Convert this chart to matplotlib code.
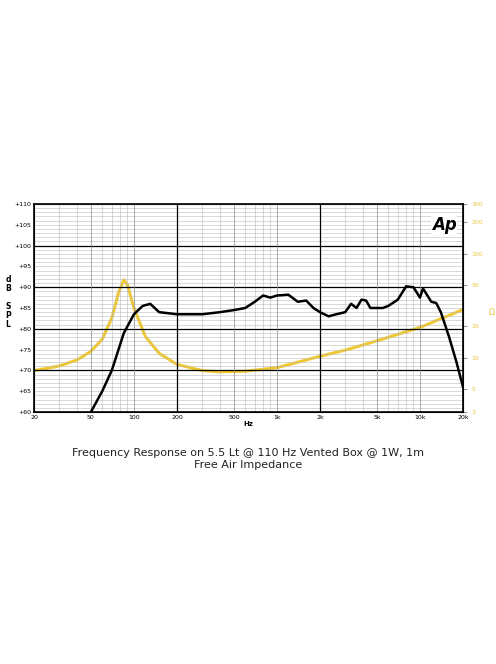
import matplotlib
matplotlib.use("Agg")
import matplotlib.pyplot as plt
import numpy as np

# Frequency response (dB SPL)
spl_freq = [50, 60, 70, 85, 100, 115, 130, 150, 200, 300, 400, 500, 600, 700, 800, 900,
            1000, 1200, 1400, 1600, 1800, 2000, 2300, 2600, 3000, 3300, 3600, 3900, 4200,
            4500, 5500, 6000, 7000, 8000, 9000, 10000, 10500, 12000, 13000, 14000, 16000,
            18000, 20000]
spl_db = [60, 65, 70, 79, 83.5, 85.5, 86, 84, 83.5, 83.5, 84, 84.5, 85, 86.5, 88, 87.5,
          88, 88.2, 86.5, 86.8, 85, 84, 83, 83.5, 84, 86, 85, 87, 86.8,
          85, 85, 85.5, 87, 90.2, 90, 87.5, 89.7, 86.5, 86.2, 84, 78, 72, 66]

# Free air impedance (ohm)
imp_freq = [20, 30, 40, 50, 60, 70, 78, 85, 90, 100, 120, 150, 200, 300, 400, 600,
            1000, 2000, 3000, 5000, 10000, 20000]
imp_ohm = [7.5, 8.3, 9.5, 11.5, 15, 24, 42, 56, 50, 30, 16, 11, 8.6, 7.5, 7.3, 7.4,
           8.0, 10.3, 11.8, 14.5, 19.5, 29]

fig = plt.figure(figsize=(4.96, 6.64), dpi=100)
ax = fig.add_axes([34 / 496, (664 - 412) / 664, 429 / 496, 208 / 664])
ax.set_xscale("log")
ax.set_xlim(20, 20000)
ax.set_ylim(60, 110)

ax.set_yticks(np.arange(60, 111, 5))
ax.set_yticklabels([f"+{v}" for v in range(60, 111, 5)], fontsize=4.5)
ax.set_xticks([20, 50, 100, 200, 500, 1000, 2000, 5000, 10000, 20000])
ax.set_xticklabels(["20", "50", "100", "200", "500", "1k", "2k", "5k", "10k", "20k"], fontsize=4.5)
ax.minorticks_on()
ax.set_yticks(np.arange(60, 111, 1), minor=True)
ax.tick_params(which="both", length=0, pad=2)

ax.grid(which="minor", color="#bbbbbb", linewidth=0.4)
ax.grid(which="major", axis="y", color="#bbbbbb", linewidth=0.4)
for y in (70, 80, 90, 100):
    ax.axhline(y, color="black", linewidth=0.9)
for x in (200, 2000):
    ax.axvline(x, color="black", linewidth=0.9)
for x in (50, 100, 500, 1000, 5000, 10000):
    ax.axvline(x, color="#888888", linewidth=0.5)
for s in ax.spines.values():
    s.set_linewidth(1.2)

# impedance on right log axis (3..300 ohm)
ax2 = ax.twinx()
ax2.set_yscale("log")
ax2.set_ylim(3, 300)
ax2.set_yticks([3, 5, 10, 20, 50, 100, 200, 300])
ax2.set_yticklabels(["3", "5", "10", "20", "50", "100", "200", "300"], fontsize=4.5, color="#e8c840")
ax2.yaxis.set_minor_locator(matplotlib.ticker.NullLocator())
ax2.tick_params(length=3, color="#999999", pad=3)
ax2.set_ylabel("Ω", color="#e8c840", rotation=0, fontsize=6, labelpad=6)

ax2.plot(imp_freq, imp_ohm, color="#f0c830", linewidth=2.2)
ax.plot(spl_freq, spl_db, color="black", linewidth=1.8, zorder=5)
ax.set_zorder(ax2.get_zorder() + 1)
ax.patch.set_visible(False)
ax2.patch.set_visible(True)

ax.set_xlabel("Hz", fontsize=5, fontweight="bold", labelpad=1)
fig.text(0.016, 0.545, "d\nB\n\nS\nP\nL", fontsize=5.5, fontweight="bold",
         ha="center", va="center", linespacing=1.0)
ax.text(0.985, 0.94, "Ap", transform=ax.transAxes, fontsize=12, fontweight="bold",
        style="italic", ha="right", va="top", zorder=10,
        bbox=dict(facecolor="white", edgecolor="none", pad=0.5))

fig.text(0.5, 0.325, "Frequency Response on 5.5 Lt @ 110 Hz Vented Box @ 1W, 1m\nFree Air Impedance",
         ha="center", va="top", fontsize=8, color="#222222")

fig.savefig("out.png", dpi=100)
